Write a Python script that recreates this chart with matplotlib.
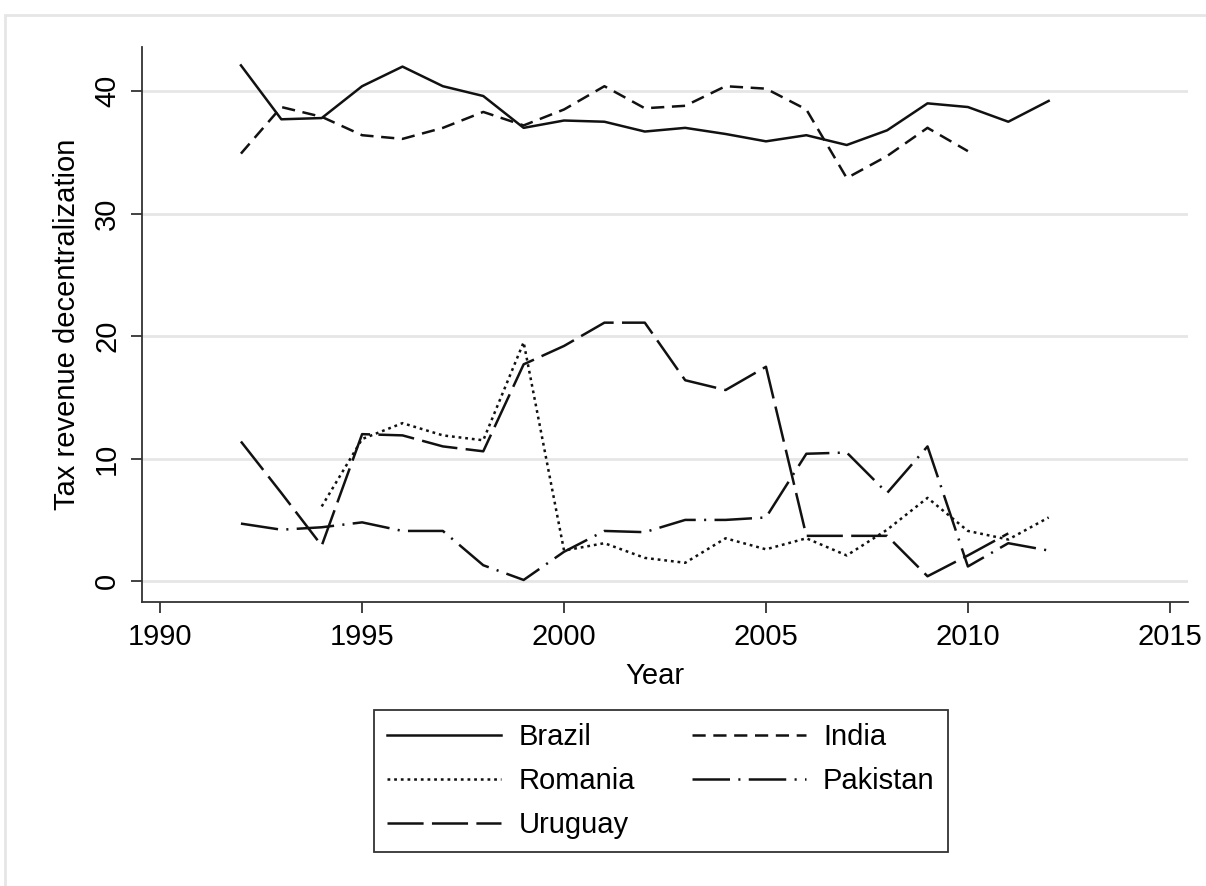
import matplotlib.pyplot as plt
from matplotlib.patches import Rectangle

# ===== DATA =====
years = list(range(1992, 2013))

brazil = [42.1, 37.7, 37.8, 40.4, 42.0, 40.4, 39.6, 37.0, 37.6, 37.5, 36.7,
          37.0, 36.5, 35.9, 36.4, 35.6, 36.8, 39.0, 38.7, 37.5, 39.2]

india_years = list(range(1992, 2011))
india = [34.9, 38.7, 37.9, 36.4, 36.1, 37.0, 38.3, 37.2, 38.5, 40.4, 38.6,
         38.8, 40.4, 40.2, 38.5, 32.9, 34.7, 37.0, 35.1]

romania_years = list(range(1994, 2013))
romania = [6.1, 11.6, 12.9, 11.9, 11.5, 19.5, 2.5, 3.1, 1.9, 1.5, 3.5,
           2.6, 3.5, 2.1, 4.2, 6.8, 4.1, 3.4, 5.2]

pakistan = [4.7, 4.2, 4.4, 4.8, 4.1, 4.1, 1.3, 0.1, 2.4, 4.1, 4.0,
            5.0, 5.0, 5.2, 10.4, 10.5, 7.2, 11.0, 1.2, 3.1, 2.5]

uruguay_years = list(range(1992, 2012))
uruguay = [11.4, 7.2, 2.9, 12.0, 11.9, 11.0, 10.6, 17.7, 19.2, 21.1, 21.1,
           16.4, 15.6, 17.5, 3.7, 3.7, 3.7, 0.4, 2.1, 3.9]

x_ticks = [1990, 1995, 2000, 2005, 2010, 2015]
y_ticks = [0, 10, 20, 30, 40]

# ===== STYLE =====
plt.rcParams['font.family'] = ['Liberation Sans', 'DejaVu Sans']
plt.rcParams['lines.scale_dashes'] = False

ink = '#111111'
lw = 1.8

fig = plt.figure(figsize=(12.06, 8.86), dpi=100)
ax = fig.add_axes([142 / 1206, 284 / 886, 1046 / 1206, 555 / 886])

# outer graph frame (Stata style)
fig.patches.append(Rectangle((5 / 1206, -0.1), 1.2, (886 - 15) / 886 + 0.1,
                             transform=fig.transFigure, fill=False,
                             edgecolor='#e6e6e6', lw=2))

# ===== LINES =====
l_bra, = ax.plot(years, brazil, color=ink, lw=lw, label='Brazil')
l_ind, = ax.plot(india_years, india, color=ink, lw=lw,
                 dashes=(9.5, 5.5), label='India')
l_rom, = ax.plot(romania_years, romania, color=ink, lw=lw,
                 dashes=(2, 2.8), label='Romania')
l_pak, = ax.plot(years, pakistan, color=ink, lw=lw,
                 dashes=(27, 6, 1.5, 6), label='Pakistan')
l_uru, = ax.plot(uruguay_years, uruguay, color=ink, lw=lw,
                 dashes=(26, 6), label='Uruguay')

# ===== AXES =====
ax.set_xlim(1989.55, 2015.45)
ax.set_ylim(-1.7, 43.6)
ax.set_xticks(x_ticks)
ax.set_yticks(y_ticks)

ax.grid(axis='y', color='#e6e6e6', lw=2)
ax.set_axisbelow(True)

for s in ['top', 'right']:
    ax.spines[s].set_visible(False)
for s in ['left', 'bottom']:
    ax.spines[s].set_color('#333333')
    ax.spines[s].set_linewidth(1.3)

ax.tick_params(axis='both', direction='out', length=8, width=1.3,
               color='#333333', labelsize=21, labelcolor='black', pad=7)
ax.tick_params(axis='y', labelrotation=90)
for t in ax.get_yticklabels():
    t.set_va('center')

ax.set_xlabel('Year', fontsize=21)
ax.xaxis.set_label_coords((655 - 142) / 1046, -0.108)
ax.set_ylabel('Tax revenue decentralization', fontsize=21, labelpad=9)

# ===== LEGEND =====
leg = ax.legend([l_bra, l_rom, l_uru, l_ind, l_pak],
                ['Brazil', 'Romania', 'Uruguay', 'India', 'Pakistan'],
                ncol=2, loc='upper left',
                bbox_to_anchor=(374 / 1206, (886 - 710) / 886),
                bbox_transform=fig.transFigure,
                fontsize=21, frameon=True, fancybox=False,
                edgecolor='black', handlelength=3.9, handletextpad=0.6,
                columnspacing=1.95, labelspacing=0.55, borderpad=0.45,
                borderaxespad=0)
leg.get_frame().set_linewidth(1.3)

plt.savefig('out.png', dpi=100)
